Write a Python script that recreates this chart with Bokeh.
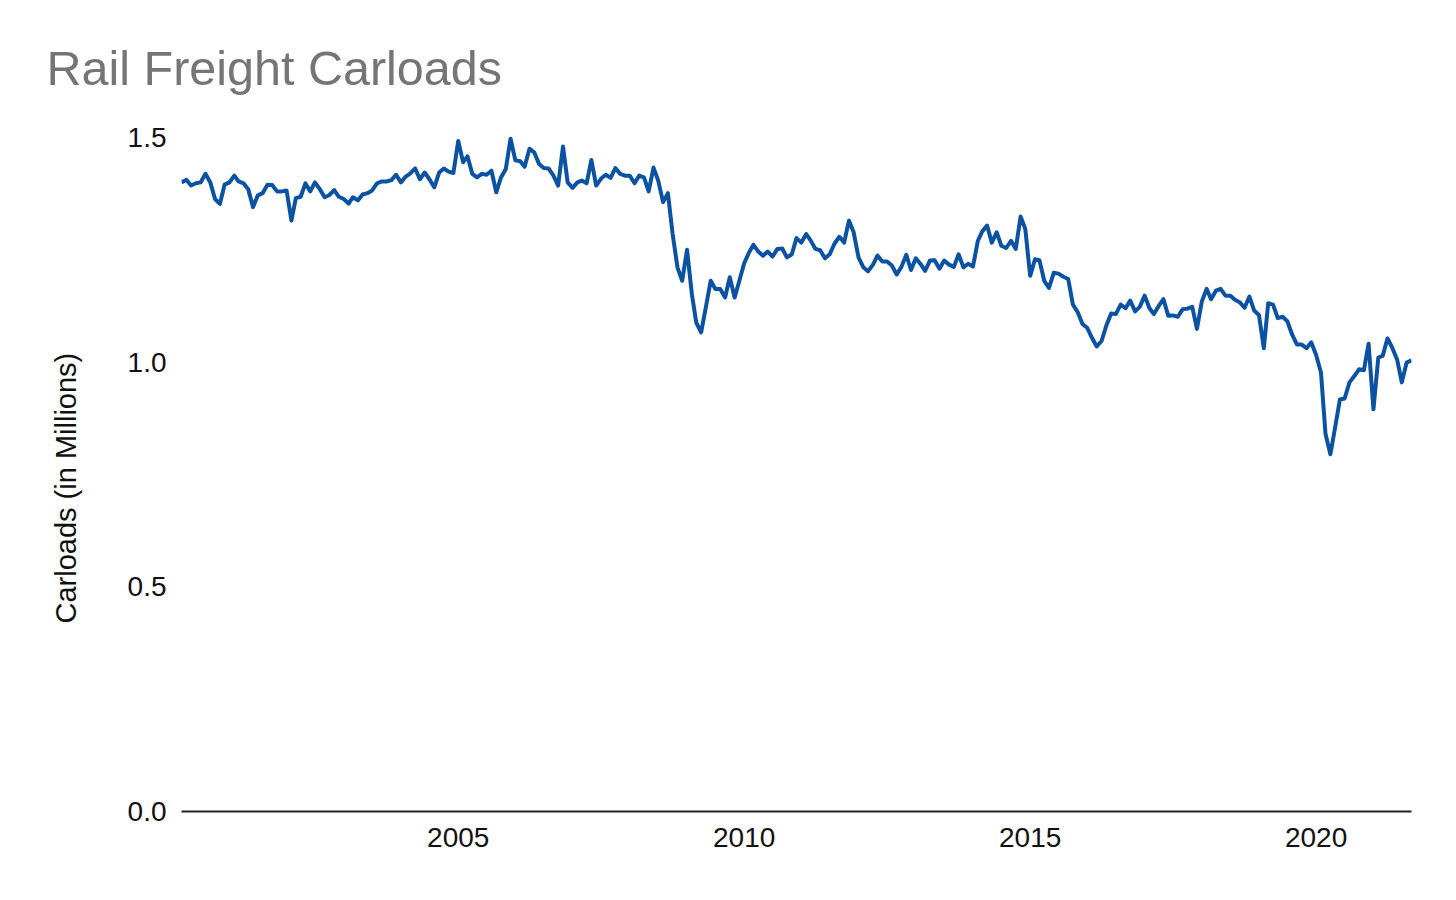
import datetime as dt
from bokeh.plotting import figure
from bokeh.models import (FixedTicker, DatetimeTickFormatter, NumeralTickFormatter,
                          Title, ColumnDataSource, Range1d)
from bokeh.embed import file_html
from bokeh.resources import INLINE

title_text = "Rail Freight Carloads"
y_axis_title = "Carloads (in Millions)"

start_year, start_month = 2000, 3   # first monthly observation

# Monthly rail freight carloads, millions
carloads_2000 = [1.400, 1.406, 1.393, 1.398, 1.400, 1.419, 1.400, 1.363, 1.352, 1.395]
carloads_2001 = [1.400, 1.415, 1.402, 1.398, 1.385, 1.345, 1.371, 1.376, 1.395, 1.394, 1.380, 1.380]
carloads_2002 = [1.382, 1.315, 1.365, 1.368, 1.398, 1.380, 1.400, 1.385, 1.367, 1.372, 1.383, 1.368]
carloads_2003 = [1.363, 1.353, 1.367, 1.360, 1.373, 1.376, 1.382, 1.398, 1.402, 1.402, 1.405, 1.417]
carloads_2004 = [1.400, 1.413, 1.420, 1.431, 1.407, 1.422, 1.407, 1.389, 1.422, 1.431, 1.424, 1.421]
carloads_2005 = [1.492, 1.445, 1.458, 1.419, 1.411, 1.419, 1.417, 1.426, 1.378, 1.411, 1.430, 1.497]
carloads_2006 = [1.449, 1.447, 1.435, 1.475, 1.467, 1.441, 1.432, 1.431, 1.415, 1.393, 1.480, 1.400]
carloads_2007 = [1.388, 1.400, 1.404, 1.398, 1.450, 1.393, 1.408, 1.417, 1.410, 1.432, 1.419, 1.415]
carloads_2008 = [1.415, 1.398, 1.415, 1.411, 1.380, 1.433, 1.404, 1.356, 1.376, 1.285, 1.211, 1.181]
carloads_2009 = [1.250, 1.151, 1.088, 1.066, 1.122, 1.181, 1.163, 1.163, 1.144, 1.189, 1.144, 1.181]
carloads_2010 = [1.220, 1.244, 1.261, 1.246, 1.237, 1.246, 1.235, 1.252, 1.253, 1.233, 1.240, 1.276]
carloads_2011 = [1.266, 1.285, 1.271, 1.252, 1.249, 1.231, 1.240, 1.264, 1.279, 1.266, 1.315, 1.289]
carloads_2012 = [1.233, 1.211, 1.202, 1.216, 1.237, 1.224, 1.224, 1.215, 1.195, 1.212, 1.239, 1.205]
carloads_2013 = [1.231, 1.218, 1.203, 1.226, 1.227, 1.208, 1.226, 1.217, 1.212, 1.240, 1.211, 1.219]
carloads_2014 = [1.213, 1.270, 1.291, 1.304, 1.266, 1.289, 1.259, 1.254, 1.270, 1.252, 1.324, 1.296]
carloads_2015 = [1.192, 1.229, 1.227, 1.181, 1.165, 1.199, 1.197, 1.190, 1.185, 1.128, 1.111, 1.085]
carloads_2016 = [1.076, 1.053, 1.035, 1.047, 1.081, 1.108, 1.107, 1.128, 1.120, 1.137, 1.113, 1.123]
carloads_2017 = [1.148, 1.120, 1.107, 1.125, 1.140, 1.103, 1.104, 1.101, 1.118, 1.119, 1.123, 1.074]
carloads_2018 = [1.135, 1.163, 1.140, 1.159, 1.163, 1.148, 1.148, 1.139, 1.133, 1.121, 1.146, 1.115]
carloads_2019 = [1.105, 1.031, 1.131, 1.128, 1.098, 1.101, 1.091, 1.061, 1.039, 1.039, 1.031, 1.044]
carloads_2020 = [1.016, 0.977, 0.840, 0.795, 0.854, 0.917, 0.919, 0.955, 0.969, 0.984, 0.982, 1.041]
carloads_2021 = [0.895, 1.010, 1.014, 1.053, 1.032, 1.006, 0.955, 0.999, 1.004]

x_tick_years = [2005, 2010, 2015, 2020]
y_tick_values = [0.0, 0.5, 1.0, 1.5]

values = (carloads_2000 + carloads_2001 + carloads_2002 + carloads_2003 + carloads_2004 +
          carloads_2005 + carloads_2006 + carloads_2007 + carloads_2008 + carloads_2009 +
          carloads_2010 + carloads_2011 + carloads_2012 + carloads_2013 + carloads_2014 +
          carloads_2015 + carloads_2016 + carloads_2017 + carloads_2018 + carloads_2019 +
          carloads_2020 + carloads_2021)

dates = []
yy, mm = start_year, start_month
for _ in values:
    dates.append(dt.datetime(yy, mm, 1))
    mm += 1
    if mm > 12:
        mm = 1
        yy += 1

EPOCH = dt.datetime(1970, 1, 1)
def to_ms(d):
    return (d - EPOCH).total_seconds() * 1000.0

source = ColumnDataSource(data=dict(date=dates, value=values))

FONT = "Liberation Sans"

p = figure(width=1440, height=880, x_axis_type="datetime",
           x_range=Range1d(dates[0], dates[-1]), y_range=Range1d(0, 1.56),
           output_backend="svg", toolbar_location=None,
           min_border_left=181, min_border_right=29,
           min_border_top=110, min_border_bottom=69)
p.outline_line_color = None
p.background_fill_color = "white"
p.border_fill_color = "white"
p.xgrid.visible = False
p.ygrid.visible = False

p.line("date", "value", source=source, line_color="#0b52a2", line_width=4,
       line_join="round")

# chart title
p.title.text = title_text
p.title.align = "left"
p.title.offset = -135
p.title.standoff = 31
p.title.text_font = FONT
p.title.text_font_size = "48.5px"
p.title.text_font_style = "normal"
p.title.text_color = "#757575"

# x axis
xa = p.xaxis[0]
xa.ticker = FixedTicker(ticks=[to_ms(dt.datetime(y, 1, 1)) for y in x_tick_years])
xa.formatter = DatetimeTickFormatter(years="%Y", months="%Y", days="%Y", hours="%Y",
                                     minutes="%Y", seconds="%Y", milliseconds="%Y",
                                     microseconds="%Y", hourmin="%Y", minsec="%Y")
xa.axis_line_color = "#222222"
xa.axis_line_width = 2
xa.major_tick_line_color = None
xa.minor_tick_line_color = None
xa.major_tick_out = 0
xa.major_tick_in = 0
xa.major_label_standoff = 16
xa.major_label_text_font = FONT
xa.major_label_text_font_size = "28px"
xa.major_label_text_color = "#111111"

# y axis
ya = p.yaxis[0]
ya.ticker = FixedTicker(ticks=y_tick_values)
ya.formatter = NumeralTickFormatter(format="0.0")
ya.axis_line_color = None
ya.major_tick_line_color = None
ya.minor_tick_line_color = None
ya.major_tick_out = 0
ya.major_tick_in = 0
ya.major_label_standoff = 15
ya.major_label_text_font = FONT
ya.major_label_text_font_size = "28px"
ya.major_label_text_color = "#111111"

# y axis title as a side title (starts 188px above the frame bottom)
ytitle = Title(text=y_axis_title, align="left", offset=188, standoff=86,
               text_font=FONT, text_font_size="29px", text_font_style="normal",
               text_color="#111111")
p.add_layout(ytitle, "left")

open("out.html", "w").write(file_html(p, INLINE))
